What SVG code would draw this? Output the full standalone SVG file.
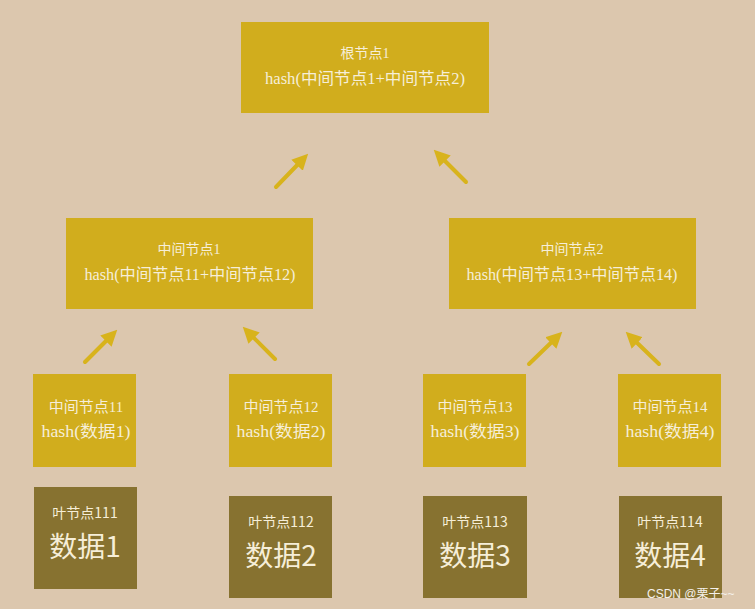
<svg xmlns="http://www.w3.org/2000/svg" width="755" height="609" viewBox="0 0 755 609">
<defs>
<style>
.bg{fill:#dcc7ae}
.hn{fill:#d1ad1d}
.dn{fill:#877230}
text{font-family:"Liberation Serif","Noto Sans CJK SC",serif;fill:#f6eed8;text-anchor:middle}
.t{font-size:14px}
.h{font-size:16px}
.s{font-size:15px}
.sh{font-size:16px}
.d{font-size:28px;font-family:"Noto Sans CJK SC","Liberation Sans",sans-serif}
.ls{font-size:14px;font-family:"Noto Sans CJK SC",sans-serif}
.ar{stroke:#d8b31c;stroke-width:4;fill:none;stroke-linecap:round}
.wm{font-family:"Liberation Sans","Noto Sans CJK SC",sans-serif;font-size:12px;fill:#f4f0ea;text-anchor:start}
</style>
<marker id="ah" markerWidth="4" markerHeight="4" refX="2.5" refY="2" orient="auto" markerUnits="strokeWidth">
<path d="M0,0 L4,2 L0,4 Z" fill="#d8b31c"/>
</marker>
</defs>
<rect class="bg" x="0" y="0" width="755" height="609"/>
<g id="connectors">
<line class="ar" x1="276" y1="187" x2="304" y2="158" marker-end="url(#ah)"/>
<line class="ar" x1="466" y1="182" x2="438" y2="154" marker-end="url(#ah)"/>
<line class="ar" x1="85" y1="362" x2="113" y2="334" marker-end="url(#ah)"/>
<line class="ar" x1="275" y1="359" x2="247" y2="331" marker-end="url(#ah)"/>
<line class="ar" x1="529" y1="364" x2="558" y2="336" marker-end="url(#ah)"/>
<line class="ar" x1="659" y1="364" x2="630" y2="336" marker-end="url(#ah)"/>
</g>
<g id="root">
<rect class="hn" x="241" y="22" width="248" height="91"/>
<text class="t" x="365" y="58">根节点1</text>
<text class="h" x="365" y="84" textLength="200" lengthAdjust="spacingAndGlyphs">hash(中间节点1+中间节点2)</text>
</g>
<g id="mid1">
<rect class="hn" x="66" y="218" width="247" height="91"/>
<text class="t" x="189" y="254">中间节点1</text>
<text class="h" x="190" y="280" textLength="211" lengthAdjust="spacingAndGlyphs">hash(中间节点11+中间节点12)</text>
</g>
<g id="mid2">
<rect class="hn" x="449" y="218" width="247" height="91"/>
<text class="t" x="572" y="254">中间节点2</text>
<text class="h" x="572" y="280" textLength="211" lengthAdjust="spacingAndGlyphs">hash(中间节点13+中间节点14)</text>
</g>
<g id="m11">
<rect class="hn" x="33" y="374" width="103" height="93"/>
<text class="s" x="86" y="412">中间节点11</text>
<text class="sh" x="86" y="437" textLength="89" lengthAdjust="spacingAndGlyphs">hash(数据1)</text>
</g>
<g id="m12">
<rect class="hn" x="229" y="374" width="103" height="93"/>
<text class="s" x="281" y="412">中间节点12</text>
<text class="sh" x="281" y="437" textLength="89" lengthAdjust="spacingAndGlyphs">hash(数据2)</text>
</g>
<g id="m13">
<rect class="hn" x="423" y="374" width="103" height="93"/>
<text class="s" x="475" y="412">中间节点13</text>
<text class="sh" x="475" y="437" textLength="89" lengthAdjust="spacingAndGlyphs">hash(数据3)</text>
</g>
<g id="m14">
<rect class="hn" x="618" y="374" width="103" height="93"/>
<text class="s" x="670" y="412">中间节点14</text>
<text class="sh" x="670" y="437" textLength="89" lengthAdjust="spacingAndGlyphs">hash(数据4)</text>
</g>
<g id="leaf1">
<rect class="dn" x="34" y="487" width="103" height="102"/>
<text class="ls" x="85" y="518">叶节点111</text>
<text class="d" x="85" y="557">数据1</text>
</g>
<g id="leaf2">
<rect class="dn" x="229" y="496" width="103" height="102"/>
<text class="ls" x="281" y="527">叶节点112</text>
<text class="d" x="281" y="566">数据2</text>
</g>
<g id="leaf3">
<rect class="dn" x="423" y="496" width="104" height="102"/>
<text class="ls" x="475" y="527">叶节点113</text>
<text class="d" x="475" y="566">数据3</text>
</g>
<g id="leaf4">
<rect class="dn" x="619" y="496" width="103" height="102"/>
<text class="ls" x="670" y="527">叶节点114</text>
<text class="d" x="670" y="566">数据4</text>
</g>
<text class="wm" x="647" y="598">CSDN @栗子~~</text>
</svg>
